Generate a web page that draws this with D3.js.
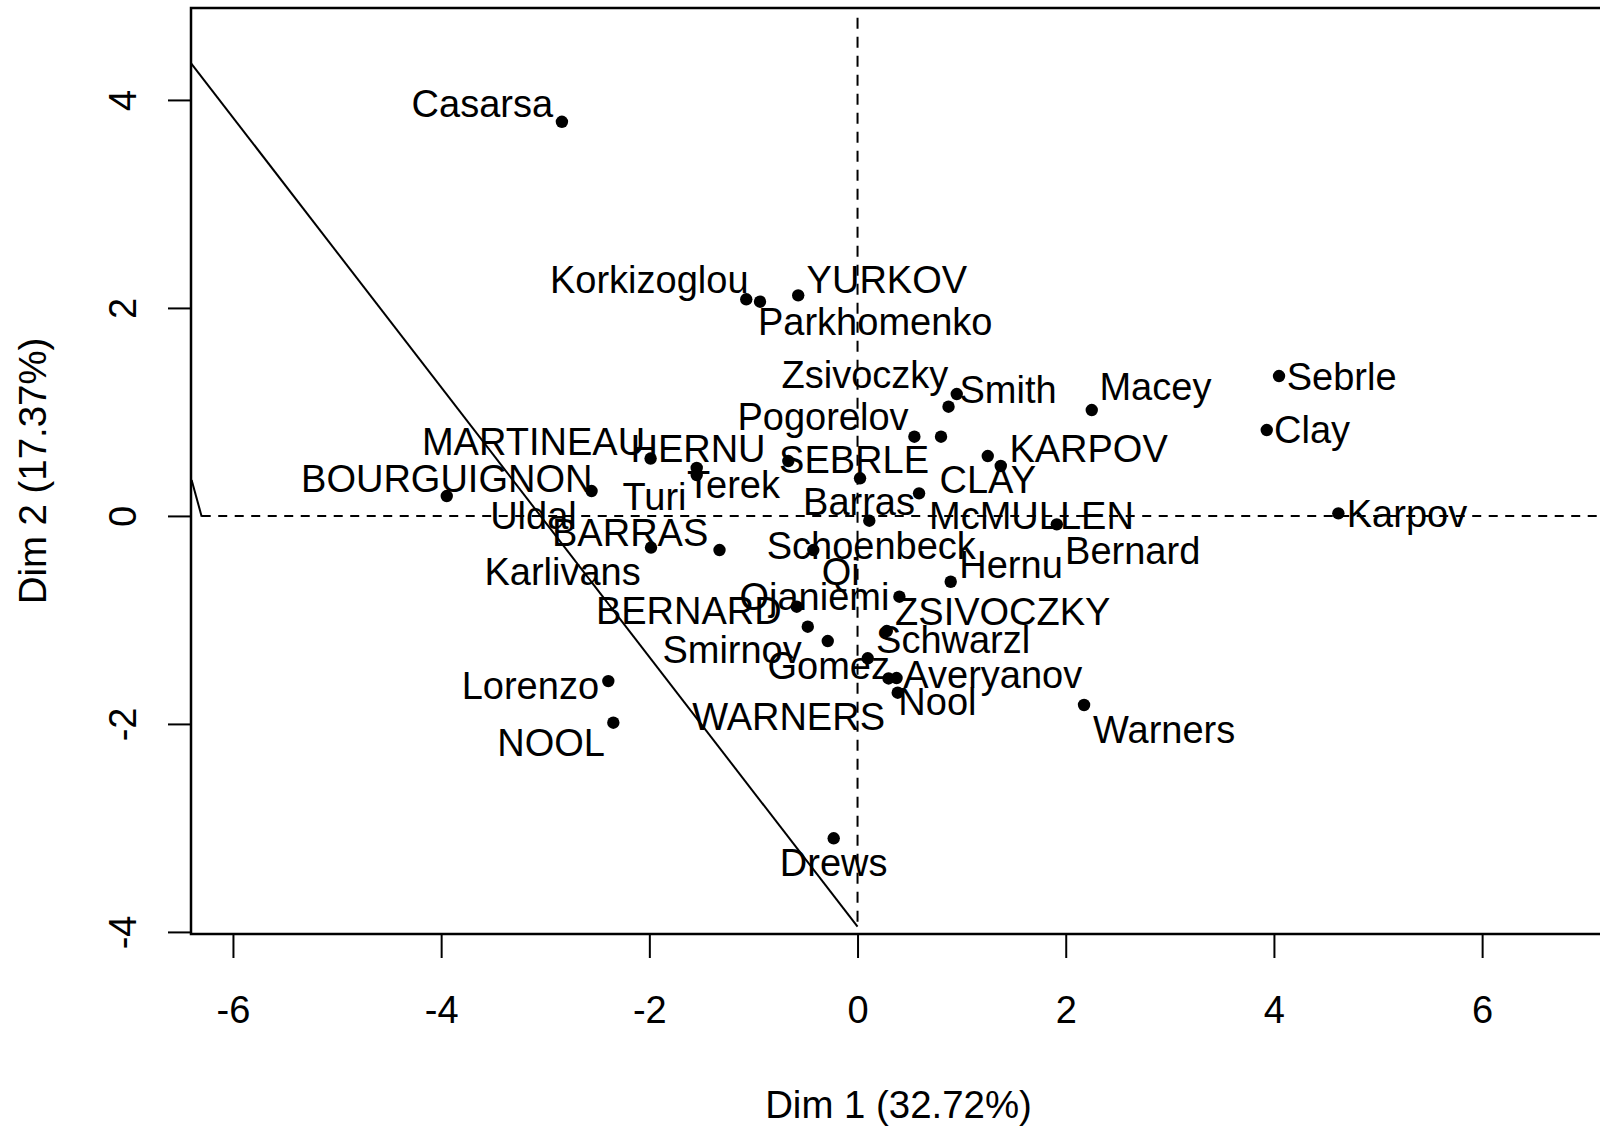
<!DOCTYPE html>
<html>
<head>
<meta charset="utf-8">
<script src="https://cdn.jsdelivr.net/npm/d3@7"></script>
<style>
  html, body { margin: 0; padding: 0; background: #fff; }
  svg text { font-family: "Liberation Sans", Arial, Helvetica, sans-serif; fill: #000; }
</style>
</head>
<body>
<svg id="chart" width="1600" height="1128"></svg>
<script>
// Individuals factor map (PCA, decathlon): coordinates on the first two dimensions
const athletes = ["SEBRLE","CLAY","KARPOV","BERNARD","YURKOV","WARNERS","ZSIVOCZKY","McMULLEN",
  "MARTINEAU","HERNU","BARRAS","NOOL","BOURGUIGNON","Sebrle","Clay","Karpov","Macey","Warners",
  "Zsivoczky","Hernu","Nool","Bernard","Schwarzl","Pogorelov","Schoenbeck","Barras","Smith",
  "Averyanov","Ojaniemi","Smirnov","Qi","Drews","Parkhomenko","Terek","Gomez","Turi","Lorenzo",
  "Karlivans","Korkizoglou","Uldal","Casarsa"];

const dim1 = [0.802, 1.251, 1.376, -0.584, -0.570, 0.386, 0.281, 0.591,
  -1.988, -1.545, -1.326, -2.346, -3.946, 4.049, 3.931, 4.619, 2.250, 2.176,
  0.953, 0.895, 0.298, 1.914, 0.098, 0.546, 0.113, 0.024, 0.874,
  0.375, 0.402, -0.478, -0.425, -0.229, -0.937, -0.665, -0.286, -1.545, -2.394,
  -1.984, -1.069, -2.555, -2.840];

const dim2 = [0.762, 0.576, 0.480, -0.873, 2.121, -1.700, -1.107, 0.217,
  0.552, 0.461, -0.328, -1.988, 0.191, 1.345, 0.826, 0.025, 1.018, -1.818,
  1.172, -0.633, -1.563, -0.081, -1.369, 0.762, -0.046, 0.362, 1.050,
  -1.559, -0.777, -1.065, -0.328, -3.100, 2.060, 0.528, -1.203, 0.393, -1.588,
  -0.304, 2.083, 0.239, 3.790];

const xTicks = [-6, -4, -2, 0, 2, 4, 6];
const yTicks = [-4, -2, 0, 2, 4];
const xTitle = "Dim 1 (32.72%)";
const yTitle = "Dim 2 (17.37%)";

// visible axis extents (data units)
const xDomain = [-6.403, 7.19];
const yDomain = [-4.02, 4.884];

// reference lines, in data units
const originV = [[0, 4.79], [0, -3.95]];
const originH = [[-6.30, 0], [7.19, 0]];
const slantLine = [[-6.40, 4.35], [0, -3.95]];
const stubLine = [[-6.397, 0.345], [-6.30, -0.008]];

// label placement around each point: [text-anchor, dx px, dy px to baseline]
const labelPlacement = [
  ["end", -12, 36.6], ["middle", 0, 37.3], ["start", 8.6, -4.3], ["end", -15, 17.3],
  ["start", 8.4, -2], ["end", -12.7, 37.3], ["start", 8.3, -6], ["start", 10, 35.7],
  ["end", -5.5, -3.5], ["middle", 1.3, -5.5], ["end", -11.2, -4], ["end", -8.3, 33.3],
  ["middle", 0, -4.3], ["start", 7.7, 14], ["start", 7.3, 12.7], ["start", 8.4, 13.4],
  ["start", 7.7, -10], ["start", 9, 38], ["end", -8.4, -5.7], ["start", 8.6, -3.4],
  ["start", 9.8, 36.5], ["start", 8.3, 39.2], ["start", 8.3, -5], ["end", -5.8, -6.7],
  ["middle", 2, 38.3], ["middle", -1, 36.7], ["start", 11, -3.4], ["start", 6.8, 10.3],
  ["end", -10, 13.3], ["end", -6, 36.6], ["start", 8.4, 35], ["middle", 0, 37.7],
  ["start", -2, 33.3], ["end", -8.3, 37.3], ["middle", 1, 38], ["end", -10.2, 34.5],
  ["end", -9.3, 18.3], ["end", -10.3, 37.5], ["end", 2.3, -6], ["end", -14.8, 38.3],
  ["end", -8.8, -4.4]
];

const LABEL_FONT = 38;
const TICK_FONT = 38;
const TITLE_FONT = 38.4;
const plot = { left: 191, right: 1606, top: 8, bottom: 934 };

const svg = d3.select("#chart");
svg.append("rect").attr("width", 1600).attr("height", 1128).attr("fill", "#fff");

const x = d3.scaleLinear().domain(xDomain).range([plot.left, plot.right]);
const y = d3.scaleLinear().domain(yDomain).range([plot.bottom, plot.top]);

const points = athletes.map((name, i) => ({ name, d1: dim1[i], d2: dim2[i], place: labelPlacement[i] }));

const line = d3.line().x(d => x(d[0])).y(d => y(d[1]));

// dashed lines through the origin
svg.append("path").attr("d", line(originV))
  .attr("fill", "none").attr("stroke", "#000").attr("stroke-width", 2)
  .attr("stroke-dasharray", "11,8");
svg.append("path").attr("d", line(originH))
  .attr("fill", "none").attr("stroke", "#000").attr("stroke-width", 2)
  .attr("stroke-dasharray", "9,7.5");

// solid reference segments
[slantLine, stubLine].forEach(seg => {
  svg.append("path").attr("d", line(seg))
    .attr("fill", "none").attr("stroke", "#000").attr("stroke-width", 2);
});

// frame
svg.append("rect")
  .attr("x", plot.left).attr("y", plot.top)
  .attr("width", plot.right - plot.left + 40).attr("height", plot.bottom - plot.top)
  .attr("fill", "none").attr("stroke", "#000").attr("stroke-width", 2.5);

// plain hyphen-minus tick labels
const fmt = d => String(d);

// x axis
const xAxis = svg.append("g")
  .attr("transform", `translate(0,${plot.bottom})`)
  .call(d3.axisBottom(x).tickValues(xTicks).tickSize(24).tickPadding(38).tickFormat(fmt));
xAxis.select(".domain").remove();
xAxis.selectAll(".tick line").attr("stroke", "#000").attr("stroke-width", 2);
xAxis.selectAll(".tick text")
  .attr("font-size", TICK_FONT)
  .attr("font-family", "Liberation Sans, Arial, sans-serif");

// y axis, labels turned to read upward
const yAxis = svg.append("g")
  .attr("transform", `translate(${plot.left},0)`)
  .call(d3.axisLeft(y).tickValues(yTicks).tickSize(23).tickFormat(fmt));
yAxis.select(".domain").remove();
yAxis.selectAll(".tick line").attr("stroke", "#000").attr("stroke-width", 2);
yAxis.selectAll(".tick text")
  .attr("font-size", TICK_FONT)
  .attr("font-family", "Liberation Sans, Arial, sans-serif")
  .attr("x", null).attr("dy", null)
  .attr("text-anchor", "middle")
  .attr("transform", "translate(-55,0) rotate(-90)");

// axis titles
svg.append("text")
  .attr("x", (plot.left + plot.right) / 2).attr("y", 1118)
  .attr("text-anchor", "middle").attr("font-size", TITLE_FONT)
  .text(xTitle);
svg.append("text")
  .attr("transform", `translate(46,${(plot.top + plot.bottom) / 2}) rotate(-90)`)
  .attr("text-anchor", "middle").attr("font-size", TITLE_FONT)
  .text(yTitle);

// points
svg.append("g").selectAll("circle")
  .data(points).join("circle")
  .attr("cx", d => x(d.d1)).attr("cy", d => y(d.d2))
  .attr("r", 6.2).attr("fill", "#000");

// point labels
svg.append("g").selectAll("text")
  .data(points).join("text")
  .attr("x", d => x(d.d1) + d.place[1])
  .attr("y", d => y(d.d2) + d.place[2])
  .attr("text-anchor", d => d.place[0])
  .attr("font-size", LABEL_FONT)
  .text(d => d.name);
</script>
</body>
</html>
